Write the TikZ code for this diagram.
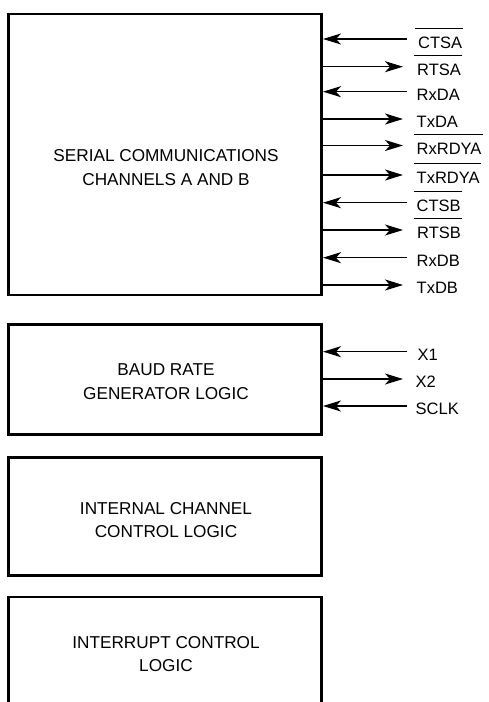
\documentclass[tikz,border=0pt]{standalone}
\usepackage{fontspec}
\setmainfont{Liberation Sans}
\usetikzlibrary{arrows.meta,calc}
\begin{document}
\begin{tikzpicture}[x=1pt,y=-1pt,
  blk/.style={draw, line width=2.6pt, minimum width=313pt, inner sep=0pt},
  btxt/.style={inner sep=0pt, align=center, font=\fontsize{17.2}{23.3}\selectfont},
  sig/.style={line width=1.5pt, -{Stealth[length=18pt,width=11pt,inset=5pt]}},
  lbl/.style={anchor=base west, inner sep=0pt, font=\fontsize{16.5}{19}\selectfont},
  bar/.style={line width=1.3pt}]
\useasboundingbox (0,0) rectangle (488,702);
\fill[white] (0,0) rectangle (488,702);

% boxes
\node[blk, minimum height=281pt] (sc) at (165.2,154.5) {};
\node[btxt] (sct) at (166,167.5) {SERIAL COMMUNICATIONS\\CHANNELS A AND B};
\node[blk, minimum height=110pt] (br) at (165.2,379.7) {};
\node[btxt] (brt) at (166,381.7) {BAUD RATE\\GENERATOR LOGIC};
\node[blk, minimum height=118.4pt] (ic) at (165.2,516.5) {};
\node[btxt] (ict) at (166,520.3) {INTERNAL CHANNEL\\CONTROL LOGIC};
\coordinate (irtl) at (8.7,597);
\coordinate (irtr) at (321.7,597);
\draw[line width=2.6pt] (8.7,710) -- (irtl) -- (irtr) -- (321.7,710);
\node[btxt] (irt) at (166,654) {INTERRUPT CONTROL\\LOGIC};

% signal ends
\coordinate (eCTSA) at (407,39);
\coordinate (eRTSA) at (403,66.7);
\coordinate (eRxDA) at (407,91.7);
\coordinate (eTxDA) at (403,119);
\coordinate (eRxRDYA) at (403,145.5);
\coordinate (eTxRDYA) at (403,175);
\coordinate (eCTSB) at (407,202.7);
\coordinate (eRTSB) at (403,230);
\coordinate (eRxDB) at (407,257.7);
\coordinate (eTxDB) at (403,285);
\coordinate (eX1) at (407,351.7);
\coordinate (eX2) at (403,379);
\coordinate (eSCLK) at (407,406);

% arrows
\draw[sig] (eCTSA) -- (eCTSA -| sc.east);
\draw[sig] (eRTSA -| sc.east) -- (eRTSA);
\draw[sig] (eRxDA) -- (eRxDA -| sc.east);
\draw[sig] (eTxDA -| sc.east) -- (eTxDA);
\draw[sig] (eRxRDYA -| sc.east) -- (eRxRDYA);
\draw[sig] (eTxRDYA -| sc.east) -- (eTxRDYA);
\draw[sig] (eCTSB) -- (eCTSB -| sc.east);
\draw[sig] (eRTSB -| sc.east) -- (eRTSB);
\draw[sig] (eRxDB) -- (eRxDB -| sc.east);
\draw[sig] (eTxDB -| sc.east) -- (eTxDB);
\draw[sig] (eX1) -- (eX1 -| br.east);
\draw[sig] (eX2 -| br.east) -- (eX2);
\draw[sig] (eSCLK) -- (eSCLK -| br.east);

% labels
\node[lbl] (lCTSA) at (418,48.3) {CTSA};
\node[lbl] (lRTSA) at (417,75.3) {RTSA};
\node[lbl] (lRxDA) at (416.5,100.5) {RxDA};
\node[lbl] (lTxDA) at (416.5,127.8) {TxDA};
\node[lbl] (lRxRDYA) at (416.5,154.3) {RxRDYA};
\node[lbl] (lTxRDYA) at (416.5,183.8) {TxRDYA};
\node[lbl] (lCTSB) at (416.5,211.5) {CTSB};
\node[lbl] (lRTSB) at (417,238.8) {RTSB};
\node[lbl] (lRxDB) at (416.5,266.5) {RxDB};
\node[lbl] (lTxDB) at (416.5,293.8) {TxDB};
\node[lbl] (lX1) at (417.5,360.5) {X1};
\node[lbl] (lX2) at (415.5,387.8) {X2};
\node[lbl] (lSCLK) at (415.5,414.8) {SCLK};

% overbars
\foreach \n in {CTSA,RTSA,RxRDYA,TxRDYA,CTSB,RTSB}{
  \draw[bar] ($(l\n.base west)+(-3,-20)$) -- ($(l\n.base east)+(1,-20)$);
}
\end{tikzpicture}
\end{document}
